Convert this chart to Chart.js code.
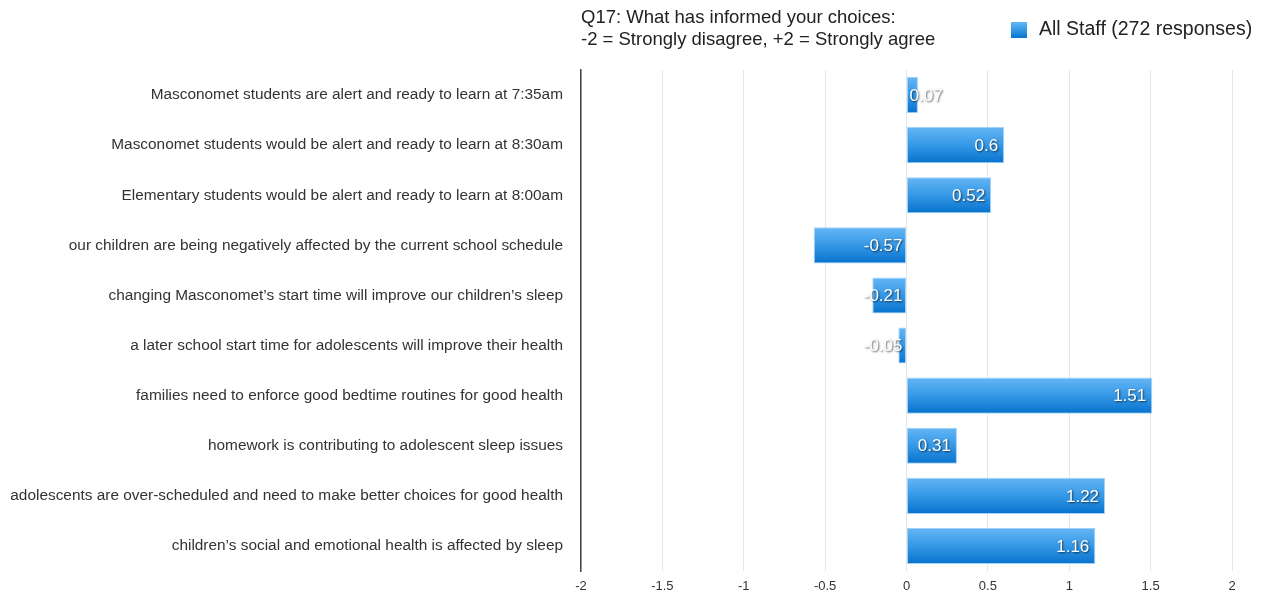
<!DOCTYPE html>
<html>
<head>
<meta charset="utf-8">
<script src="https://cdn.jsdelivr.net/npm/chart.js@4"></script>
<style>
  html, body { margin: 0; padding: 0; background: #fff; }
  #wrap { width: 1265px; height: 595px; }
</style>
</head>
<body>
<div id="wrap"><canvas id="staffChart"></canvas></div>
<script>
// Q17 statements and mean scores
const statements = [
    'Masconomet students are alert and ready to learn at 7:35am',
    'Masconomet students would be alert and ready to learn at 8:30am',
    'Elementary students would be alert and ready to learn at 8:00am',
    'our children are being negatively affected by the current school schedule',
    'changing Masconomet\u2019s start time will improve our children\u2019s sleep',
    'a later school start time for adolescents will improve their health',
    'families need to enforce good bedtime routines for good health',
    'homework is contributing to adolescent sleep issues',
    'adolescents are over-scheduled and need to make better choices for good health',
    'children\u2019s social and emotional health is affected by sleep'
];
const allStaff = [0.07, 0.6, 0.52, -0.57, -0.21, -0.05, 1.51, 0.31, 1.22, 1.16];
const titleLines = ['Q17: What has informed your choices:', '-2 = Strongly disagree, +2 = Strongly agree'];
const seriesName = 'All Staff (272 responses)';
const BAR_FRACTION = 0.72;

const FONT = '"Liberation Sans", Arial, Helvetica, sans-serif';

function barGradient(ctx, top, bottom) {
    const g = ctx.createLinearGradient(0, top, 0, bottom);
    g.addColorStop(0, '#64b6f4');
    g.addColorStop(0.5, '#3598e6');
    g.addColorStop(1, '#0672cc');
    return g;
}

// gradient per bar, light on top and dark at the bottom
function barFill(c) {
    const chart = c.chart;
    const y = chart.scales.y;
    if (!y || c.dataIndex === undefined || !y.height) return '#2a8ee0';
    const py = y.getPixelForValue(c.dataIndex);
    const half = (y.height / statements.length) * BAR_FRACTION / 2;
    return barGradient(chart.ctx, py - half, py + half);
}

// title, legend and value labels
const extras = {
    id: 'extras',
    afterDatasetsDraw(chart) {
        const ctx = chart.ctx;
        const x = chart.scales.x;
        const meta = chart.getDatasetMeta(0);
        const zero = x.getPixelForValue(0);
        ctx.save();
        ctx.font = '17px ' + FONT;
        ctx.textBaseline = 'middle';
        ctx.shadowColor = 'rgba(0,0,0,0.65)';
        ctx.shadowBlur = 2;
        ctx.shadowOffsetX = 1;
        ctx.shadowOffsetY = 1;
        ctx.fillStyle = '#ffffff';
        meta.data.forEach((bar, i) => {
            const v = allStaff[i];
            const txt = String(v);
            const w = ctx.measureText(txt).width;
            if (v >= 0) {
                if (bar.x - zero >= w + 10) {
                    ctx.textAlign = 'right';
                    ctx.fillText(txt, bar.x - 6, bar.y + 1);
                } else {
                    ctx.textAlign = 'left';
                    ctx.fillText(txt, zero + 3, bar.y + 1);
                }
            } else {
                ctx.textAlign = 'right';
                ctx.fillText(txt, zero - 4, bar.y + 1);
            }
        });
        ctx.restore();

        ctx.save();
        ctx.font = '18.5px ' + FONT;
        ctx.fillStyle = '#222';
        ctx.textAlign = 'left';
        ctx.textBaseline = 'middle';
        titleLines.forEach((t, i) => ctx.fillText(t, chart.chartArea.left, 18 + i * 22));

        // legend
        ctx.fillStyle = barGradient(ctx, 22, 38);
        ctx.fillRect(1011, 22, 16, 16);
        ctx.font = '19.5px ' + FONT;
        ctx.fillStyle = '#222';
        ctx.fillText(seriesName, 1039, 30);
        ctx.restore();
    }
};

const ctx = document.getElementById('staffChart').getContext('2d');
new Chart(ctx, {
    type: 'bar',
    data: {
        labels: statements,
        datasets: [{
            label: seriesName,
            data: allStaff,
            backgroundColor: barFill,
            borderColor: 'rgba(150,205,250,0.9)',
            borderWidth: 1,
            borderSkipped: false,
            barPercentage: BAR_FRACTION,
            categoryPercentage: 1
        }]
    },
    options: {
        indexAxis: 'y',
        responsive: true,
        maintainAspectRatio: false,
        animation: false,
        layout: {
            padding: { left: 0, right: 33, top: 70, bottom: 0 }
        },
        plugins: {
            legend: { display: false },
            tooltip: { enabled: false }
        },
        scales: {
            x: {
                min: -2,
                max: 2,
                afterFit(scale) { scale.height = 24; },
                ticks: {
                    stepSize: 0.5,
                    color: '#333',
                    padding: 8,
                    font: { family: FONT, size: 13 },
                    callback: v => String(+v)
                },
                grid: {
                    color: '#e6e6e6',
                    drawTicks: false
                },
                border: { display: false }
            },
            y: {
                afterFit(scale) {
                    scale.width = 581;
                    scale.paddingBottom = 0;
                },
                ticks: {
                    color: '#333',
                    padding: 18,
                    font: { family: FONT, size: 15.4 }
                },
                grid: { display: false, drawTicks: false },
                border: { display: true, color: '#444', width: 1.5 }
            }
        }
    },
    plugins: [extras]
});
</script>
</body>
</html>
